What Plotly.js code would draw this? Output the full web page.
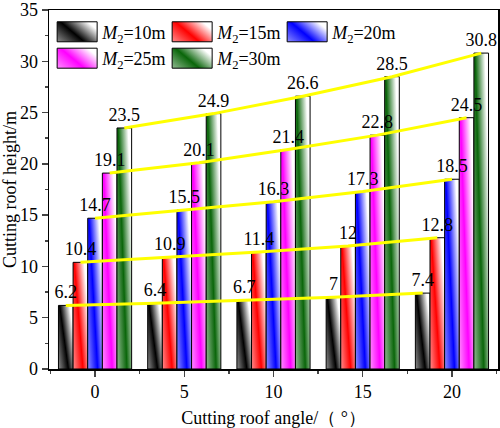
<!DOCTYPE html>
<html><head><meta charset="utf-8">
<script src="https://cdn.plot.ly/plotly-3.0.1.min.js"></script>
<style>html,body{margin:0;padding:0;background:#fff}</style>
</head><body><div id="chart" style="width:500px;height:428px"></div>
<script>
const angles = [0, 5, 10, 15, 20];
const seriesNames = ['<i>M</i><sub>2</sub>=10m', '<i>M</i><sub>2</sub>=15m', '<i>M</i><sub>2</sub>=20m', '<i>M</i><sub>2</sub>=25m', '<i>M</i><sub>2</sub>=30m'];
const m10 = [6.2, 6.4, 6.7, 7, 7.4];
const m15 = [10.4, 10.9, 11.4, 12, 12.8];
const m20 = [14.7, 15.5, 16.3, 17.3, 18.5];
const m25 = [19.1, 20.1, 21.4, 22.8, 24.5];
const m30 = [23.5, 24.9, 26.6, 28.5, 30.8];
const yTicks = [0, 5, 10, 15, 20, 25, 30, 35];
const seriesValues = [m10, m15, m20, m25, m30];
const colors = ['#000000', '#ff0000', '#0000ff', '#ff00ff', '#0a660a'];

const FONT = 'Liberation Serif, Times New Roman, serif';
const BW = 0.82;
const traces = [];
seriesValues.forEach((vals, i) => {
  traces.push({
    type: 'bar', x: angles, y: vals, name: seriesNames[i],
    width: BW, offset: (i - 2.5) * BW,
    marker: {color: colors[i], line: {color: '#000', width: 1}},
    text: vals.map(v => String(v)), textposition: 'outside',
    textfont: {family: FONT, size: 18, color: '#000'},
    constraintext: 'none', cliponaxis: false
  });
});
seriesValues.forEach((vals, i) => {
  traces.push({
    type: 'scatter', mode: 'lines', showlegend: false,
    x: angles.map(a => a + (i - 2) * BW), y: vals,
    line: {color: '#ffff00', width: 3}, hoverinfo: 'skip'
  });
});

const layout = {
  width: 500, height: 428,
  margin: {l: 49, r: 2, t: 10, b: 59},
  paper_bgcolor: '#fff', plot_bgcolor: '#fff',
  font: {family: FONT, size: 18, color: '#000'},
  showlegend: true,
  legend: {orientation: 'h', x: 0.007, xanchor: 'left', y: 0.99, yanchor: 'top',
    itemwidth: 40, entrywidth: 60, entrywidthmode: 'pixels',
    bgcolor: 'rgba(0,0,0,0)', font: {family: FONT, size: 18, color: '#000'}},
  xaxis: {range: [-2.58, 22.58], tickvals: angles, ticktext: angles.map(String),
    ticks: 'outside', ticklen: 6, tickwidth: 1.5, showline: true, linewidth: 1.5, linecolor: '#000', mirror: true,
    showgrid: false, zeroline: false, ticklabeloverflow: 'allow',
    minor: {dtick: 2.5, tick0: 0, ticks: 'outside', ticklen: 3, tickwidth: 1.5},
    tickfont: {family: FONT, size: 18},
    title: {text: 'Cutting roof angle/（ °）', font: {family: FONT, size: 18}, standoff: 12}},
  yaxis: {range: [0, 35], tickvals: yTicks, ticktext: yTicks.map(String),
    ticks: 'outside', ticklen: 6, tickwidth: 1.5, showline: true, linewidth: 1.5, linecolor: '#000', mirror: true,
    showgrid: false, zeroline: false, ticklabeloverflow: 'allow',
    minor: {dtick: 2.5, tick0: 0, ticks: 'outside', ticklen: 3, tickwidth: 1.5},
    tickfont: {family: FONT, size: 18},
    title: {text: 'Cutting roof height/m', font: {family: FONT, size: 18}, standoff: 6}},
  barmode: 'overlay'
};

function mix(hex, f) {
  const r = parseInt(hex.slice(1,3),16), g = parseInt(hex.slice(3,5),16), b = parseInt(hex.slice(5,7),16);
  const m = c => Math.round(c + (255 - c) * f);
  return 'rgb(' + m(r) + ',' + m(g) + ',' + m(b) + ')';
}

Plotly.newPlot('chart', traces, layout, {staticPlot: true}).then(gd => {
  const ns = 'http://www.w3.org/2000/svg';
  const svg = gd.querySelector('svg.main-svg');
  let defs = svg.querySelector('defs');
  if (!defs) { defs = document.createElementNS(ns, 'defs'); svg.insertBefore(defs, svg.firstChild); }
  colors.forEach((c, i) => {
    const g = document.createElementNS(ns, 'linearGradient');
    g.setAttribute('id', 'barGrad' + i);
    g.setAttribute('x1', '0'); g.setAttribute('y1', '1');
    g.setAttribute('x2', '1'); g.setAttribute('y2', '0.4');
    [[0, mix(c, 0.55)], [0.5, c], [1, '#ffffff']].forEach(([o, col]) => {
      const s = document.createElementNS(ns, 'stop');
      s.setAttribute('offset', o); s.setAttribute('stop-color', col);
      g.appendChild(s);
    });
    defs.appendChild(g);
  });
  const barlayer = gd.querySelector('.barlayer');
  const textGroup = document.createElementNS(ns, 'g');
  textGroup.setAttribute('class', 'moved-bartext');
  gd.querySelectorAll('.barlayer .trace.bars').forEach((t, i) => {
    t.querySelectorAll('.point path').forEach(p => { p.style.fill = 'url(#barGrad' + i + ')'; });
  });
  Array.from(gd.querySelectorAll('.barlayer text.bartext')).forEach(tx => textGroup.appendChild(tx));
  barlayer.appendChild(textGroup);
  gd.querySelectorAll('.legend .traces').forEach((t, i) => {
    t.querySelectorAll('.legendpoints path').forEach(p => {
      p.setAttribute('d', 'M-20,-10H20V10H-20Z');
      p.style.fill = 'url(#barGrad' + i + ')';
      p.style.stroke = '#000'; p.style.strokeWidth = '1px';
    });
  });
});
</script></body></html>
